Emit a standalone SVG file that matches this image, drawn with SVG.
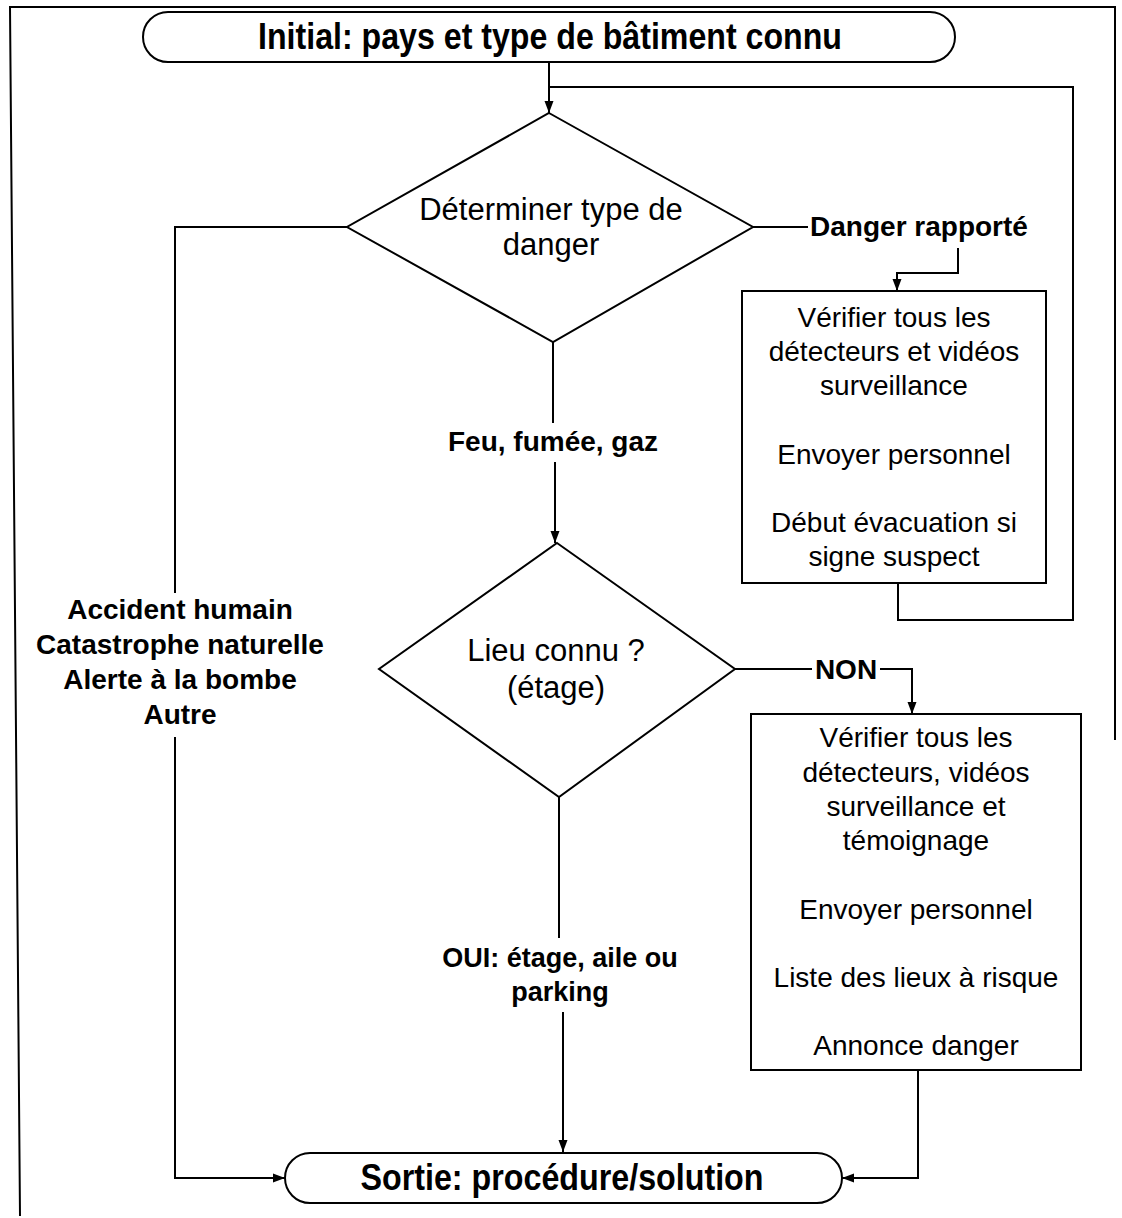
<svg xmlns="http://www.w3.org/2000/svg" width="1122" height="1218" viewBox="0 0 1122 1218">
<defs>
<style>
.frame{fill:none;stroke:#000;stroke-width:2}
.shape{fill:#fff;stroke:#000;stroke-width:2}
.line{fill:none;stroke:#000;stroke-width:2}
.t{font-family:"Liberation Sans",Arial,sans-serif;fill:#000;text-anchor:middle}
.term{font-size:36px;font-weight:bold}
.lbl{font-size:28px;font-weight:bold}
.box{font-size:28px}
.dia{font-size:31px}
</style>
<marker id="ah" viewBox="0 0 12 10" refX="12" refY="5" markerWidth="12" markerHeight="10" markerUnits="userSpaceOnUse" orient="auto">
<path d="M0,0.5 L12,5 L0,9.5 Z" fill="#000"/>
</marker>
</defs>
<rect width="1122" height="1218" fill="#fff"/>
<path class="frame" d="M20,1216 L10,7 L1115,7 L1115,740"/>
<g id="connectors">
<path class="line" d="M549,62 V113" marker-end="url(#ah)"/>
<path class="line" d="M898,583 V620 H1073 V87 H549"/>
<path class="line" d="M347,227 H175 V593"/>
<path class="line" d="M175,737 V1178 H285" marker-end="url(#ah)"/>
<path class="line" d="M753,227 H808"/>
<path class="line" d="M958,248 V273 H897 V291" marker-end="url(#ah)"/>
<path class="line" d="M553,342 V423"/>
<path class="line" d="M555,462 V543" marker-end="url(#ah)"/>
<path class="line" d="M735,669 H812"/>
<path class="line" d="M880,669 H912 V714" marker-end="url(#ah)"/>
<path class="line" d="M559,797 V938"/>
<path class="line" d="M563,1012 V1152" marker-end="url(#ah)"/>
<path class="line" d="M918,1070 V1178 H842" marker-end="url(#ah)"/>
<text class="t lbl" x="919" y="236">Danger rapporté</text>
<text class="t lbl" x="553" y="451">Feu, fumée, gaz</text>
<text class="t lbl" x="846" y="679">NON</text>
<text class="t lbl" x="180" y="619">Accident humain</text>
<text class="t lbl" x="180" y="654">Catastrophe naturelle</text>
<text class="t lbl" x="180" y="689">Alerte à la bombe</text>
<text class="t lbl" x="180" y="724">Autre</text>
<text class="t lbl" x="560" y="967" style="font-size:27px">OUI: étage, aile ou</text>
<text class="t lbl" x="560" y="1001" style="font-size:27px">parking</text>
</g>
<g id="start">
<rect class="shape" x="143" y="12" width="812" height="50" rx="25" ry="25"/>
<text class="t term" x="550" y="49" textLength="584" lengthAdjust="spacingAndGlyphs">Initial: pays et type de bâtiment connu</text>
</g>
<g id="decision1">
<polygon class="shape" points="549,113 753,227 553,342 347,227"/>
<text class="t dia" x="551" y="220">Déterminer type de</text>
<text class="t dia" x="551" y="255">danger</text>
</g>
<g id="box1">
<rect class="shape" x="742" y="291" width="304" height="292"/>
<text class="t box" x="894" y="327">Vérifier tous les</text>
<text class="t box" x="894" y="361">détecteurs et vidéos</text>
<text class="t box" x="894" y="395">surveillance</text>
<text class="t box" x="894" y="464">Envoyer personnel</text>
<text class="t box" x="894" y="532">Début évacuation si</text>
<text class="t box" x="894" y="566">signe suspect</text>
</g>
<g id="decision2">
<polygon class="shape" points="557,543 735,669 559,797 379,669"/>
<text class="t dia" x="556" y="661">Lieu connu ?</text>
<text class="t dia" x="556" y="698">(étage)</text>
</g>
<g id="box2">
<rect class="shape" x="751" y="714" width="330" height="356"/>
<text class="t box" x="916" y="747">Vérifier tous les</text>
<text class="t box" x="916" y="782">détecteurs, vidéos</text>
<text class="t box" x="916" y="816">surveillance et</text>
<text class="t box" x="916" y="850">témoignage</text>
<text class="t box" x="916" y="919">Envoyer personnel</text>
<text class="t box" x="916" y="987">Liste des lieux à risque</text>
<text class="t box" x="916" y="1055">Annonce danger</text>
</g>
<g id="end">
<rect class="shape" x="285" y="1153" width="557" height="50" rx="25" ry="25"/>
<text class="t term" x="562" y="1190" textLength="403" lengthAdjust="spacingAndGlyphs">Sortie: procédure/solution</text>
</g>
</svg>
